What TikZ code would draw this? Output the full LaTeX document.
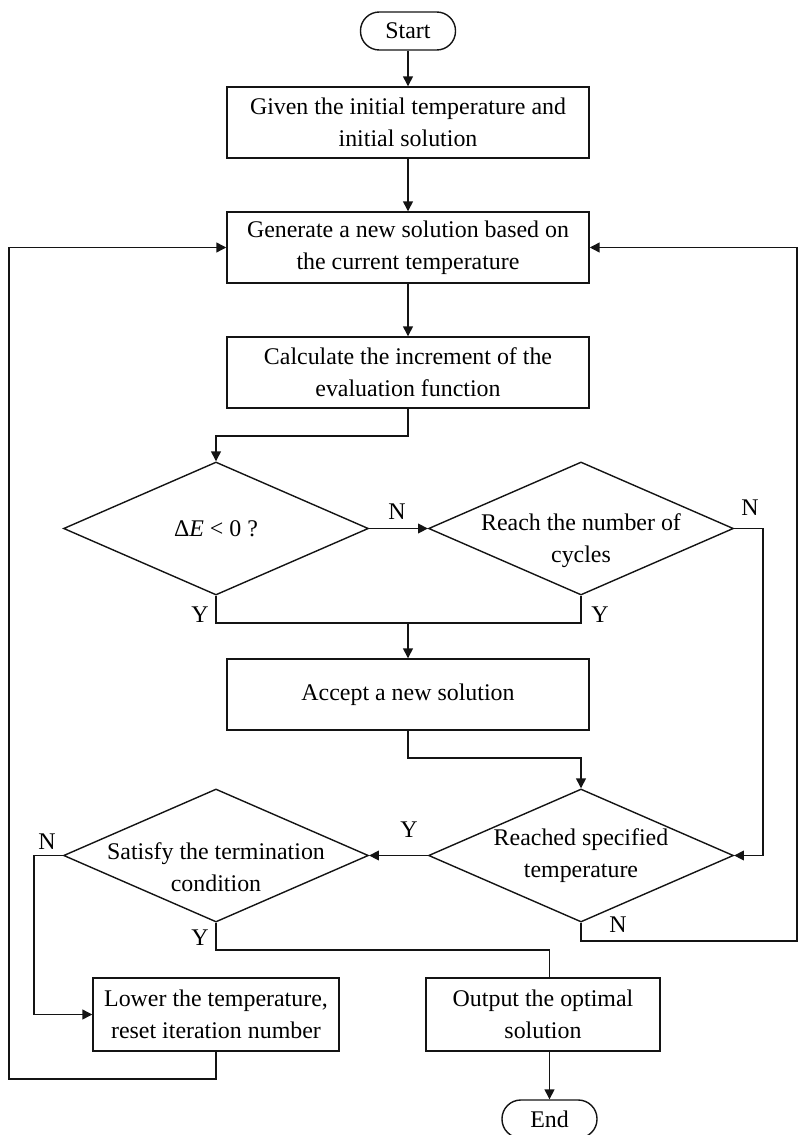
\documentclass[tikz,border=0pt]{standalone}
\usepackage{fontspec}
\setmainfont{Liberation Serif}
\usepackage{tikz}
\usetikzlibrary{shapes.geometric,arrows.meta}
\definecolor{flowline}{RGB}{20,20,20}

\begin{document}
\begin{tikzpicture}[x=0.025cm, y=-0.025cm, line width=1pt, draw=flowline,
    font=\fontsize{17}{22.8}\selectfont,
    proc/.style={draw, rectangle, align=center, minimum width=9.05cm, minimum height=1.775cm, inner sep=0pt},
    term/.style={draw, rectangle, rounded corners=0.47cm, minimum width=2.375cm, minimum height=0.95cm, inner sep=0pt},
    decision/.style={draw, diamond, minimum width=7.62cm, minimum height=3.325cm, inner sep=0pt},
    txt/.style={align=center, inner sep=0pt},
    lab/.style={inner sep=0pt},
    arr/.style={-{Triangle[length=7pt,width=7pt]}}]
                \useasboundingbox (0,0) rectangle (798,1135);

                % Main column
                \node[term] (start) at (408,31) {Start};
                \node[proc] (init) at (408,122.5) {Given the initial temperature and\\initial solution};
                \node[proc] (gen) at (408,247.5) {Generate a new solution based on\\the current temperature};
                \node[proc] (calc) at (408,372.5) {Calculate the increment of the\\evaluation function};

                % First decisions
                \node[decision, label={[txt]center:Δ\textit{E} < 0 ?}] (dE) at (216,528.5) {};
                \node[decision, label={[txt,yshift=-0.3cm]center:Reach the number of\\cycles}] (cyc) at (581,528.5) {};

                \node[proc] (accept) at (408,694.5) {Accept a new solution};

                % Second decisions
                \node[decision, label={[txt]center:Reached specified\\temperature}] (temp) at (581,855.5) {};
                \node[decision, label={[txt,yshift=-0.3cm]center:Satisfy the termination\\condition}] (term) at (216,855.5) {};

                % Last row
                \node[proc, minimum width=6.15cm, minimum height=1.825cm] (lower) at (216,1014.5) {Lower the temperature,\\reset iteration number};
                \node[proc, minimum width=5.85cm, minimum height=1.825cm] (out) at (543,1014.5) {Output the optimal\\solution};
                \node[term] (finish) at (549.5,1119) {End};

                % Branch labels
                \node[lab] (n1) at (397,512) {N};
                \node[lab] (n2) at (750,508) {N};
                \node[lab] (y1) at (200,615) {Y};
                \node[lab] (y2) at (600,615) {Y};
                \node[lab] (y3) at (409,830) {Y};
                \node[lab] (n3) at (47,842) {N};
                \node[lab] (y4) at (200,938) {Y};
                \node[lab] (n4) at (618,925) {N};

                % Turning points
                \coordinate (k1) at (408,436);
                \coordinate (j1) at (408,623);
                \coordinate (k2) at (408,758);
                \coordinate (k3) at (549.5,950);
                \coordinate (k4) at (797,941);
                \coordinate (k5) at (9,1079);

                % Connectors
                \draw[arr] (start) -- (init);
                \draw[arr] (init) -- (gen);
                \draw[arr] (gen) -- (calc);
                \draw[arr] (calc.south) -- (k1) -| (dE.north);
                \draw[arr] (dE.east) -- (cyc.west);
                \draw (dE.south) |- (j1) -| (cyc.south);
                \draw[arr] (j1) -- (accept.north);
                \draw[arr] (cyc.east) -- ++(29,0) |- (temp.east);
                \draw[arr] (accept.south) -- (k2) -| (temp.north);
                \draw[arr] (temp.west) -- (term.east);
                \draw[arr] (term.west) -- ++(-29,0) |- (lower.west);
                \draw (term.south) |- (k3) -- (k3 |- out.north);
                \draw[arr] (temp.south) |- (k4) |- (gen.east);
                \draw[arr] (lower.south) |- (k5) |- (gen.west);
                \draw[arr] (finish.north |- out.south) -- (finish.north);
            \end{tikzpicture}
\end{document}
